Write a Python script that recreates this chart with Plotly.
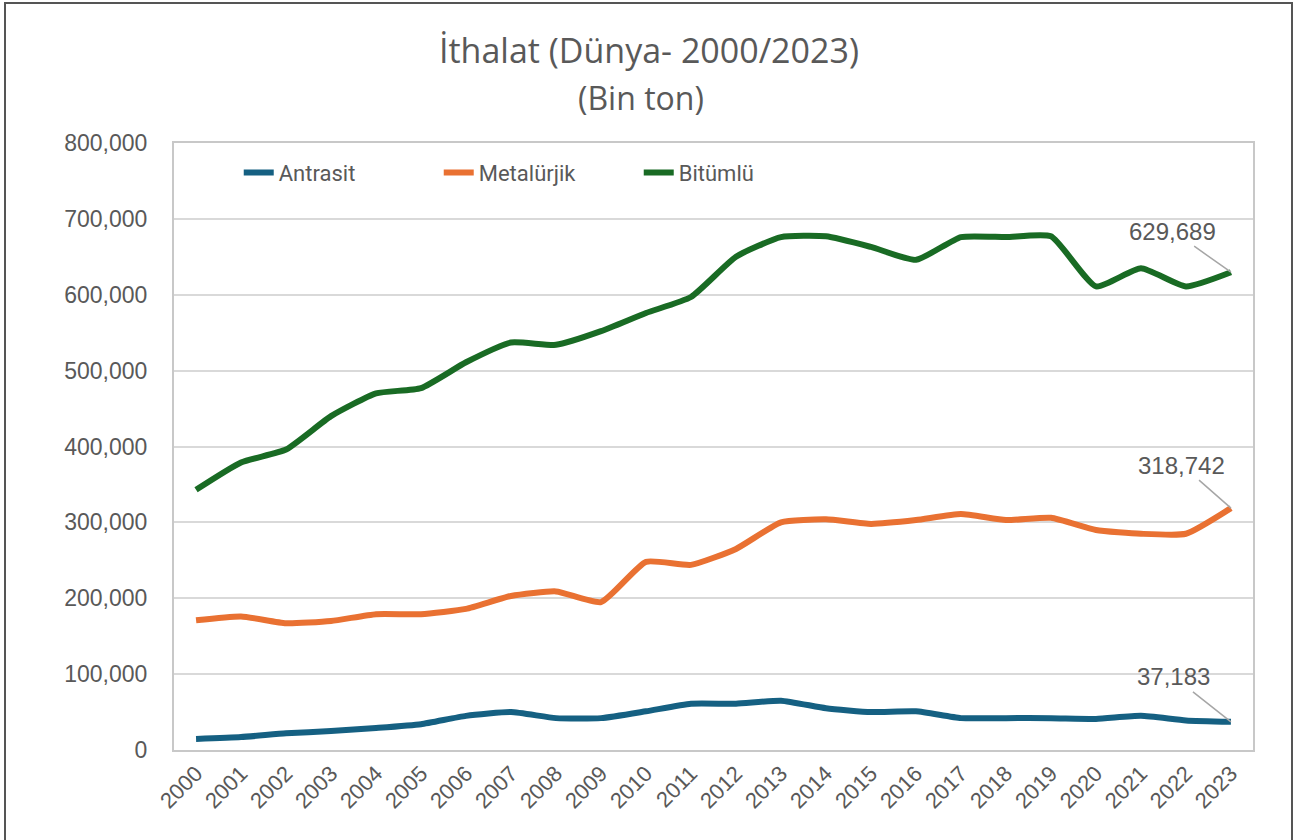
import plotly.graph_objects as go

years = list(range(2000, 2024))
antrasit = [14500, 17000, 22000, 25000, 29000, 34000, 45000, 50000, 42000, 42000, 51000, 61000,
            61000, 65000, 55000, 50000, 51000, 42000, 42000, 42000, 41000, 45000, 39000, 37183]
metalurjik = [171000, 176000, 167000, 170000, 179000, 179000, 186000, 203000, 209000, 195000, 248000, 244000,
              265000, 300000, 304000, 298000, 303000, 311000, 303000, 306000, 290000, 285000, 285000, 318742]
bitumlu = [343000, 379000, 396000, 440000, 470000, 477000, 511000, 537000, 534000, 552000, 576000, 597000,
           650000, 676000, 677000, 663000, 646000, 676000, 676000, 677000, 611000, 635000, 611000, 629689]

series_names = ["Antrasit", "Metalürjik", "Bitümlü"]
series_values = [antrasit, metalurjik, bitumlu]
colors = ["#156082", "#E97132", "#196B24"]

title_text = "İthalat (Dünya- 2000/2023)"
subtitle_text = "(Bin ton)"

L, R, T, B = 174, 1253, 143, 750
W, H = 1297, 840
pw, ph = R - L, B - T


def px_x(px):
    return (px - L) / pw


def px_y(py):
    return (B - py) / ph


fig = go.Figure()
for name, vals, col in zip(series_names, series_values, colors):
    fig.add_trace(go.Scatter(x=years, y=vals, name=name, mode="lines",
                             line=dict(color=col, width=6, shape="spline", smoothing=0.5)))

label_offsets = [(-57, -45), (-49, -43), (-58, -41)]
for vals, (ax, ay) in zip(series_values, label_offsets):
    fig.add_annotation(x=years[-1], y=vals[-1], text=f"{vals[-1]:,}", showarrow=True,
                       arrowhead=0, arrowwidth=1.5, arrowcolor="#A6A6A6", ax=ax, ay=ay,
                       standoff=0, startstandoff=0,
                       font=dict(family="Liberation Sans, Arial", size=24, color="#595959"))

fig.add_annotation(text=title_text, xref="paper", yref="paper", x=px_x(648.5), y=px_y(50),
                   xanchor="center", yanchor="middle", showarrow=False,
                   font=dict(family="Open Sans", size=34, color="#595959"))
fig.add_annotation(text=subtitle_text, xref="paper", yref="paper", x=px_x(641), y=px_y(98),
                   xanchor="center", yanchor="middle", showarrow=False,
                   font=dict(family="Open Sans", size=32, color="#595959"))

# outer frame
fig.add_shape(type="rect", xref="paper", yref="paper",
              x0=px_x(5), x1=px_x(1292), y0=px_y(850), y1=px_y(3),
              line=dict(color="#555555", width=2), fillcolor="rgba(0,0,0,0)", layer="below")

fig.update_layout(
    width=W, height=H,
    margin=dict(l=L, r=W - R, t=T, b=H - B),
    paper_bgcolor="white", plot_bgcolor="white",
    showlegend=True,
    legend=dict(orientation="h", x=0.06, y=0.951, xanchor="left", yanchor="middle",
                entrywidth=155, entrywidthmode="pixels", bgcolor="rgba(0,0,0,0)",
                font=dict(family="Roboto", size=22, color="#595959")),
)
fig.update_xaxes(range=[1999.51, 2023.49], tickmode="array", tickvals=years,
                 ticktext=[str(y) for y in years], tickangle=-45,
                 tickfont=dict(family="Liberation Sans, Arial", size=22, color="#595959"),
                 showgrid=False, showline=True, mirror=True, linecolor="#C8C8C8", linewidth=2,
                 zeroline=False, ticks="")
fig.update_yaxes(range=[0, 800000], tickvals=list(range(0, 800001, 100000)), tickformat=",",
                 tickfont=dict(family="Liberation Sans, Arial", size=23, color="#595959"),
                 showgrid=True, gridcolor="#D9D9D9", gridwidth=2,
                 showline=True, mirror=True, linecolor="#C8C8C8", linewidth=2,
                 zeroline=False, ticks="", ticklabelstandoff=20)

fig.write_html("out.html", config={"displayModeBar": False},
               post_script="document.body.style.margin='0';document.body.style.overflow='hidden';")
